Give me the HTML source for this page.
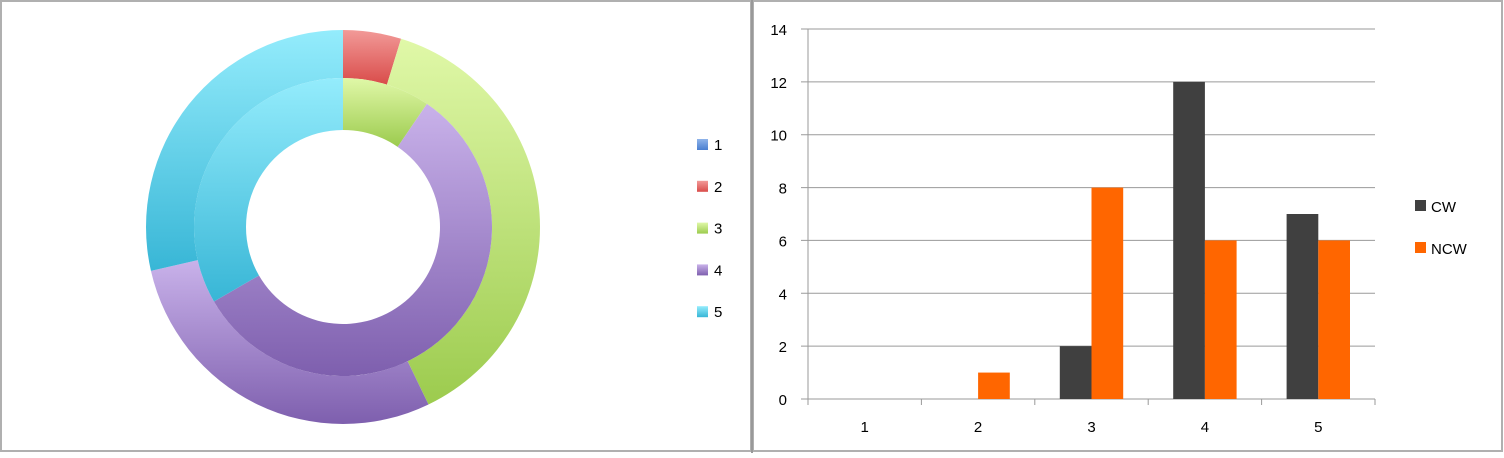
<!DOCTYPE html>
<html><head><meta charset="utf-8"><style>
body{margin:0;background:#fff;}
svg text{font-family:"Liberation Sans",sans-serif;}
</style></head><body>
<svg width="1504" height="453" viewBox="0 0 1504 453">
<defs>
<linearGradient id="g1" x1="0" y1="0" x2="0" y2="1"><stop offset="0" stop-color="#8fb4ea"/><stop offset="1" stop-color="#4a7fd0"/></linearGradient>
<linearGradient id="g2" x1="0" y1="0" x2="0" y2="1"><stop offset="0" stop-color="#f29a98"/><stop offset="1" stop-color="#d94c4a"/></linearGradient>
<linearGradient id="g3" x1="0" y1="0" x2="0" y2="1"><stop offset="0" stop-color="#e0f8a8"/><stop offset="1" stop-color="#9ccb4e"/></linearGradient>
<linearGradient id="g4" x1="0" y1="0" x2="0" y2="1"><stop offset="0" stop-color="#c9b2ea"/><stop offset="1" stop-color="#7e5fae"/></linearGradient>
<linearGradient id="g5" x1="0" y1="0" x2="0" y2="1"><stop offset="0" stop-color="#94ecfc"/><stop offset="1" stop-color="#38b6d6"/></linearGradient>
</defs>
<rect x="1" y="1" width="750" height="450" fill="#fff" stroke="#b0b0b0" stroke-width="2"/>
<rect x="753" y="1" width="749" height="450" fill="#fff" stroke="#b0b0b0" stroke-width="2"/>
<line x1="752" y1="0" x2="752" y2="453" stroke="#999" stroke-width="2"/>
<g id="donut"></g>
<g id="donutLegend"></g>
<g id="bars"></g>
</svg>
<script>
const categories = ["1","2","3","4","5"];
const cwValues = [0,0,2,12,7];
const ncwValues = [0,1,8,6,6];
const yTicks = [0,2,4,6,8,10,12,14];
const seriesNames = ["CW","NCW"];

const NS="http://www.w3.org/2000/svg";
function mk(tag,attrs,parent){const e=document.createElementNS(NS,tag);for(const k in attrs)e.setAttribute(k,attrs[k]);parent.appendChild(e);return e;}

// Donut
const cx=343, cy=227;
const donut=document.getElementById('donut');
function ring(vals,r0,r1,label){
  const tot=vals.reduce((a,b)=>a+b,0);let a=0;
  vals.forEach((v,i)=>{
    if(v<=0)return;
    const a0=a/tot*2*Math.PI, a1=(a+v)/tot*2*Math.PI; a+=v;
    const p=(r,t)=>[cx+r*Math.sin(t),cy-r*Math.cos(t)];
    const lg=(a1-a0)>Math.PI?1:0;
    const [x0,y0]=p(r1,a0),[x1,y1]=p(r1,a1),[x2,y2]=p(r0,a1),[x3,y3]=p(r0,a0);
    const el=mk('path',{d:`M${x0} ${y0}A${r1} ${r1} 0 ${lg} 1 ${x1} ${y1}L${x2} ${y2}A${r0} ${r0} 0 ${lg} 0 ${x3} ${y3}Z`,fill:`url(#g${i+1})`},donut);
    
    
  });
}
ring(ncwValues,149,197,'outer');
ring(cwValues,97,149,'inner');

const dl=document.getElementById('donutLegend');
categories.forEach((c,i)=>{
  const y=139+i*41.8;
  const r=mk('rect',{x:697,y:y,width:11,height:11,fill:`url(#g${i+1})`},dl);
  
  
  const t=mk('text',{x:714,y:y+11,'font-size':15,fill:'#000'},dl);t.textContent=c;
  
  
});

// Bars
const g=document.getElementById('bars');
const x0=808,x1=1375,y0=399,yTop=29,yMax=14;
const Y=v=>y0-(v/yMax)*(y0-yTop);
const cw=(x1-x0)/categories.length;
yTicks.forEach(v=>{
  const gl=mk('line',{x1:801,x2:x1,y1:Y(v),y2:Y(v),stroke:'#9a9a9a','stroke-width':1},g);
  
  
  const t=mk('text',{x:787,y:Y(v)+6,'font-size':15,'text-anchor':'end',fill:'#000'},g);t.textContent=v;
  
  
});
mk('line',{x1:x0,x2:x0,y1:yTop,y2:y0+6,stroke:'#9a9a9a'},g);
categories.forEach((c,i)=>{
  const cx0=x0+i*cw;
  mk('line',{x1:cx0+cw,x2:cx0+cw,y1:y0,y2:y0+6,stroke:'#9a9a9a'},g);
  const t=mk('text',{x:cx0+cw/2,y:y0+33,'font-size':15,'text-anchor':'middle',fill:'#000'},g);t.textContent=c;
  
  
  const bw=31.7;
  if(cwValues[i]>0){
    const b=mk('rect',{x:cx0+25,y:Y(cwValues[i]),width:bw,height:y0-Y(cwValues[i]),fill:'#404040'},g);
    
    
  }
  if(ncwValues[i]>0){
    const b=mk('rect',{x:cx0+25+bw,y:Y(ncwValues[i]),width:bw,height:y0-Y(ncwValues[i]),fill:'#ff6600'},g);
    
    
  }
});
const colors=['#404040','#ff6600'];
seriesNames.forEach((s,i)=>{
  const y=200+i*42;
  const r=mk('rect',{x:1415,y:y,width:11,height:11,fill:colors[i]},g);
  
  
  const t=mk('text',{x:1431,y:y+12,'font-size':15,fill:'#000'},g);t.textContent=s;
  
  
});
</script>
</body></html>
